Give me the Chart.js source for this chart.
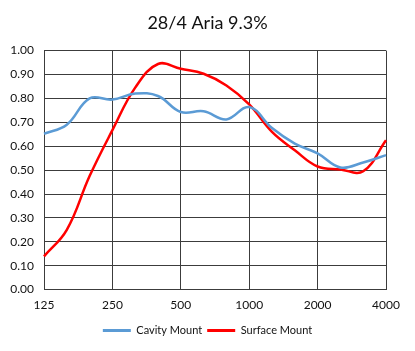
<!DOCTYPE html>
<html>
<head>
<meta charset="utf-8">
<script src="https://cdn.jsdelivr.net/npm/chart.js@4"></script>
<style>
  html, body { margin: 0; padding: 0; background: #fff; }
  #wrap { width: 415px; height: 351px; }
</style>
</head>
<body>
<div id="wrap"><canvas id="chart"></canvas></div>
<script>
// 1/3 octave bands, only the octaves get a label
const frequencies = ["125", "160", "200", "250", "315", "400", "500", "630", "800",
    "1000", "1250", "1600", "2000", "2500", "3150", "4000"];
const tickLabels = ["125", "250", "500", "1000", "2000", "4000"];

const cavityMount = [0.652, 0.69, 0.80, 0.795, 0.82, 0.81, 0.743, 0.746, 0.712,
    0.764, 0.676, 0.611, 0.57, 0.511, 0.532, 0.5625];
const surfaceMount = [0.139, 0.25, 0.475, 0.667, 0.845, 0.944, 0.924, 0.903, 0.854,
    0.775, 0.66, 0.583, 0.515, 0.503, 0.495, 0.625];

const fontFamily = "Lato, 'Open Sans', sans-serif";
const gridColor = "#3c3c3c";

const ctx = document.getElementById("chart");

new Chart(ctx, {
    type: "line",
    data: {
        labels: frequencies,
        datasets: [
            {
                label: "Cavity Mount",
                data: cavityMount,
                borderColor: "#5b9bd5",
                backgroundColor: "#5b9bd5",
                borderWidth: 2.5,
                pointRadius: 0,
                tension: 0.4,
                fill: false,
            },
            {
                label: "Surface Mount",
                data: surfaceMount,
                borderColor: "#ff0000",
                backgroundColor: "#ff0000",
                borderWidth: 2.5,
                pointRadius: 0,
                tension: 0.4,
                fill: false,
            },
        ],
    },
    options: {
        responsive: true,
        maintainAspectRatio: false,
        animation: false,
        layout: {
            padding: { left: 0, right: 0, top: 8, bottom: 5 },
        },
        scales: {
            x: {
                type: "category",
                offset: false,
                border: { display: true, color: gridColor, width: 1 },
                grid: {
                    drawTicks: false,
                    color: (c) => (c.index % 3 === 0 ? gridColor : "transparent"),
                    lineWidth: 1,
                },
                ticks: {
                    autoSkip: false,
                    maxRotation: 0,
                    padding: 8,
                    color: "#111",
                    font: { family: fontFamily, size: 12 },
                    callback: (value, index) =>
                        index % 3 === 0 ? tickLabels[index / 3] : "",
                },
            },
            y: {
                min: 0,
                max: 1,
                border: { display: true, color: gridColor, width: 1 },
                grid: { drawTicks: false, color: gridColor, lineWidth: 1 },
                afterFit: (scale) => {
                    scale.width = 44;
                },
                ticks: {
                    stepSize: 0.1,
                    padding: 10,
                    color: "#111",
                    font: { family: fontFamily, size: 12 },
                    callback: (value) => value.toFixed(2),
                },
            },
            // empty axis that keeps the right margin, so the legend stays centred on the page
            spacer: {
                type: "linear",
                position: "right",
                display: true,
                grid: { display: false, drawTicks: false },
                border: { display: false },
                ticks: { display: false },
                afterFit: (scale) => {
                    scale.width = 29;
                },
            },
        },
        plugins: {
            title: {
                display: true,
                text: "28/4 Aria 9.3%",
                color: "#111",
                font: { family: fontFamily, size: 18, weight: "normal" },
                padding: { top: 4, bottom: 17 },
            },
            legend: {
                display: true,
                position: "bottom",
                labels: {
                    color: "#111",
                    font: { family: fontFamily, size: 11 },
                    boxWidth: 28,
                    boxHeight: 3,
                    padding: 5,
                    generateLabels: (chart) =>
                        Chart.defaults.plugins.legend.labels
                            .generateLabels(chart)
                            .map((item) => ({ ...item, lineWidth: 0 })),
                },
            },
            tooltip: { enabled: false },
        },
    },
});
</script>
</body>
</html>
